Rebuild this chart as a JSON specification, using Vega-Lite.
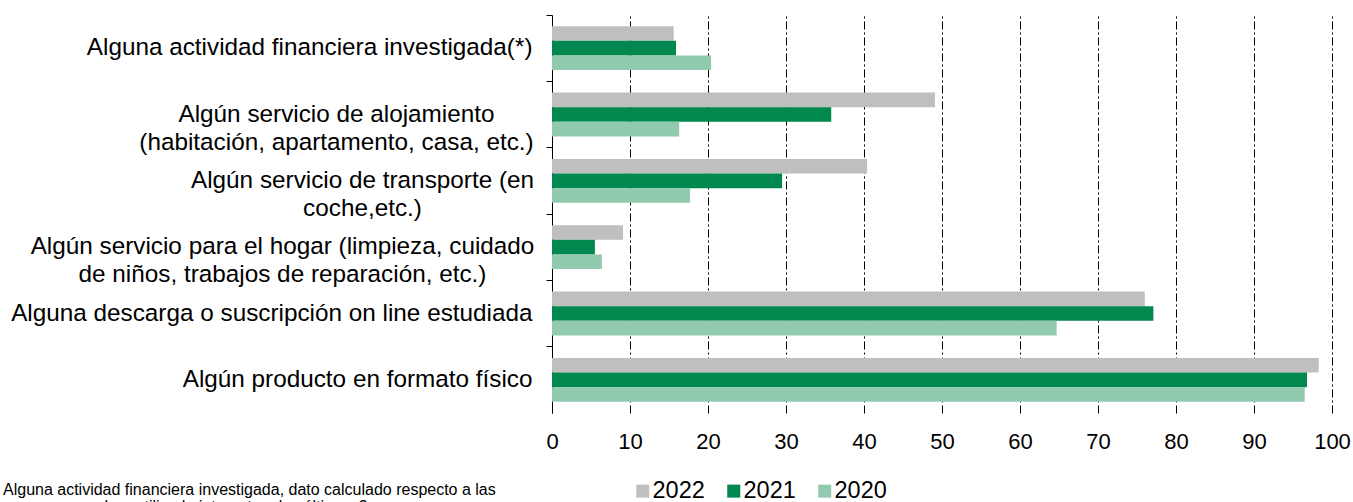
{
  "$schema": "https://vega.github.io/schema/vega-lite/v6.json",
  "width": 780,
  "height": 398,
  "autosize": {"type": "none"},
  "padding": {"left": 552, "top": 15, "right": 21, "bottom": 89},
  "background": "white",
  "config": {"font": "Liberation Sans", "view": {"stroke": null}},
  "title": {
    "text": ["Alguna actividad financiera investigada, dato calculado respecto a las", "personas que han utilizado internet en los últimos 3 meses"],
    "orient": "bottom",
    "anchor": "start",
    "frame": "group",
    "fontSize": 16,
    "fontWeight": "normal",
    "color": "black",
    "dx": -549,
    "dy": -21,
    "offset": 0,
    "lineHeight": 17
  },
  "data": {
    "values": [
      {"categoria": "Alguna actividad financiera investigada(*)", "anio": "2022", "valor": 15.6},
      {"categoria": "Alguna actividad financiera investigada(*)", "anio": "2021", "valor": 15.9},
      {"categoria": "Alguna actividad financiera investigada(*)", "anio": "2020", "valor": 20.4},
      {"categoria": "Algún servicio de alojamiento|(habitación, apartamento, casa, etc.)", "anio": "2022", "valor": 49.1},
      {"categoria": "Algún servicio de alojamiento|(habitación, apartamento, casa, etc.)", "anio": "2021", "valor": 35.8},
      {"categoria": "Algún servicio de alojamiento|(habitación, apartamento, casa, etc.)", "anio": "2020", "valor": 16.3},
      {"categoria": "Algún servicio de transporte (en|coche,etc.)", "anio": "2022", "valor": 40.4},
      {"categoria": "Algún servicio de transporte (en|coche,etc.)", "anio": "2021", "valor": 29.5},
      {"categoria": "Algún servicio de transporte (en|coche,etc.)", "anio": "2020", "valor": 17.7},
      {"categoria": "Algún servicio para el hogar (limpieza, cuidado|de niños, trabajos de reparación, etc.)", "anio": "2022", "valor": 9.1},
      {"categoria": "Algún servicio para el hogar (limpieza, cuidado|de niños, trabajos de reparación, etc.)", "anio": "2021", "valor": 5.5},
      {"categoria": "Algún servicio para el hogar (limpieza, cuidado|de niños, trabajos de reparación, etc.)", "anio": "2020", "valor": 6.4},
      {"categoria": "Alguna descarga o suscripción on line estudiada", "anio": "2022", "valor": 76.0},
      {"categoria": "Alguna descarga o suscripción on line estudiada", "anio": "2021", "valor": 77.1},
      {"categoria": "Alguna descarga o suscripción on line estudiada", "anio": "2020", "valor": 64.7},
      {"categoria": "Algún producto en formato físico", "anio": "2022", "valor": 98.3},
      {"categoria": "Algún producto en formato físico", "anio": "2021", "valor": 96.8},
      {"categoria": "Algún producto en formato físico", "anio": "2020", "valor": 96.5}
    ]
  },
  "mark": {"type": "bar"},
  "encoding": {
    "y": {
      "field": "categoria",
      "type": "nominal",
      "sort": null,
      "scale": {"paddingInner": 0, "paddingOuter": 0},
      "axis": {
        "title": null,
        "bandPosition": 0,
        "labelFontSize": 24.3,
        "labelColor": "black",
        "labelLimit": 0,
        "labelLineHeight": 28,
        "labelExpr": "split(datum.label, '|')",
        "labelAlign": {"condition": {"test": "indexof(datum.value, '|') >= 0", "value": "center"}, "value": "right"},
        "labelPadding": {"condition": [
          {"test": "indexof(datum.value, 'alojamiento') >= 0", "value": 210},
          {"test": "indexof(datum.value, 'transporte') >= 0", "value": 184},
          {"test": "indexof(datum.value, 'hogar') >= 0", "value": 264}
        ], "value": 14},
        "tickSize": 6,
        "tickColor": "black",
        "domainColor": "black",
        "grid": false
      }
    },
    "x": {
      "field": "valor",
      "type": "quantitative",
      "scale": {"domain": [0, 100], "nice": false},
      "axis": {
        "title": null,
        "values": [0, 10, 20, 30, 40, 50, 60, 70, 80, 90, 100],
        "domain": false,
        "ticks": false,
        "labelFontSize": 22,
        "labelColor": "black",
        "labelPadding": 18,
        "labelFlush": false,
        "grid": true,
        "gridColor": "black",
        "gridDash": [8, 3, 2, 3],
        "gridWidth": 1
      }
    },
    "yOffset": {
      "field": "anio",
      "type": "nominal",
      "sort": ["2022", "2021", "2020"],
      "scale": {"paddingInner": 0, "paddingOuter": 0.77}
    },
    "color": {
      "field": "anio",
      "type": "nominal",
      "sort": ["2022", "2021", "2020"],
      "scale": {"domain": ["2022", "2021", "2020"], "range": ["#BFBFBF", "#00884E", "#92CAB0"]},
      "legend": {
        "title": null,
        "orient": "none",
        "legendX": 79,
        "legendY": 464,
        "direction": "horizontal",
        "symbolType": "square",
        "symbolSize": 169,
        "symbolStrokeWidth": 0,
        "labelFontSize": 23.5,
        "labelColor": "black",
        "labelOffset": -2,
        "columnPadding": 17,
        "padding": 0
      }
    }
  }
}
